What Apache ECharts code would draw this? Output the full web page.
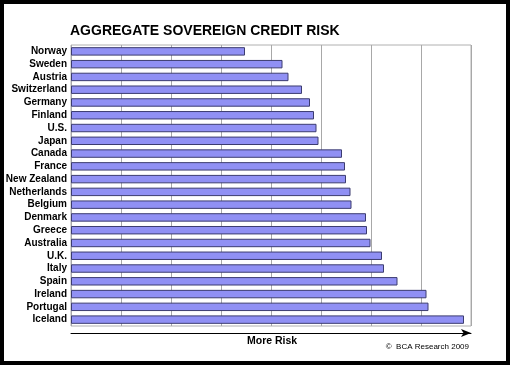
<!DOCTYPE html>
<html><head><meta charset="utf-8">
<script src="https://cdn.jsdelivr.net/npm/echarts@6/dist/echarts.min.js"></script>
<style>html,body{margin:0;padding:0;background:#fff}#c{width:510px;height:365px}</style>
</head><body><div id="c"></div>
<script>
var countries = ['Norway','Sweden','Austria','Switzerland','Germany','Finland','U.S.','Japan','Canada','France','New Zealand','Netherlands','Belgium','Denmark','Greece','Australia','U.K.','Italy','Spain','Ireland','Portugal','Iceland'];
var riskScores = [3.48,4.23,4.35,4.62,4.78,4.86,4.91,4.95,5.42,5.48,5.50,5.59,5.61,5.90,5.92,5.99,6.22,6.26,6.53,7.11,7.15,7.86];
var titleText = 'AGGREGATE SOVEREIGN CREDIT RISK';
var axisTitle = 'More Risk';
var sourceText = '\u00A9  BCA Research 2009';

var chart = echarts.init(document.getElementById('c'));
var font = 'Arial, "Liberation Sans", sans-serif';
chart.setOption({
  animation: false,
  backgroundColor: '#fff',
  grid: {left: 71, right: 39, top: 45, bottom: 39, show: true, borderColor: '#b0b0b0', borderWidth: 1},
  xAxis: {
    type: 'value', min: 0, max: 8, interval: 1,
    offset: 7,
    axisLine: {show: true, lineStyle: {color: '#000', width: 1}, symbol: ['none','arrow'], symbolSize: [6, 10]},
    axisTick: {show: false}, axisLabel: {show: false},
    splitLine: {show: true, lineStyle: {color: '#a8a8a8', width: 1}}
  },
  yAxis: {
    type: 'category', data: countries, inverse: true,
    axisLine: {show: false}, axisTick: {show: false},
    axisLabel: {interval: 0, color: '#000', fontFamily: font, fontWeight: 'bold', fontSize: 10, margin: 4}
  },
  series: [{
    type: 'bar', data: riskScores, barWidth: '66%',
    itemStyle: {color: '#9090f4', borderColor: '#3c3c70', borderWidth: 1}
  }],
  graphic: [
    {type: 'text', left: 70, top: 24, style: {text: titleText, font: 'bold 14px ' + font, fill: '#000'}},
    {type: 'text', left: 247, top: 336, style: {text: axisTitle, font: 'bold 10.5px ' + font, fill: '#000'}},
    {type: 'text', right: 41, top: 343, style: {text: sourceText, font: '8px ' + font, fill: '#000'}},
    {type: 'rect', shape: {x: 0, y: 0, width: 510, height: 4}, style: {fill: '#000'}},
    {type: 'rect', shape: {x: 0, y: 361, width: 510, height: 4}, style: {fill: '#000'}},
    {type: 'rect', shape: {x: 0, y: 0, width: 4, height: 365}, style: {fill: '#000'}},
    {type: 'rect', shape: {x: 506, y: 0, width: 4, height: 365}, style: {fill: '#000'}}
  ]
});
</script></body></html>
